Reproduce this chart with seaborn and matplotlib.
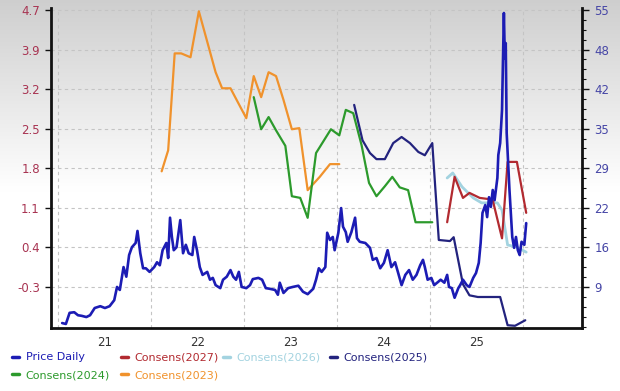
import numpy as np
import pandas as pd
import seaborn as sns
import matplotlib
matplotlib.use("Agg")
import matplotlib.pyplot as plt
from matplotlib.ticker import FixedLocator

# ---- data (x in decimal years) ----
price_year = [
    2020.54, 2020.58, 2020.62, 2020.67, 2020.71, 2020.75, 2020.80, 2020.84, 2020.89, 2020.95,
    2021.00, 2021.05, 2021.10, 2021.13, 2021.16, 2021.20, 2021.23, 2021.26, 2021.29, 2021.33,
    2021.35, 2021.38, 2021.41, 2021.44, 2021.48, 2021.53, 2021.56, 2021.59, 2021.62, 2021.66,
    2021.68, 2021.70, 2021.72, 2021.74, 2021.77, 2021.81, 2021.84, 2021.87, 2021.90, 2021.94,
    2021.96, 2021.99, 2022.02, 2022.05, 2022.10, 2022.13, 2022.16, 2022.19, 2022.24, 2022.27,
    2022.31, 2022.35, 2022.38, 2022.41, 2022.44, 2022.47, 2022.52, 2022.56, 2022.59, 2022.65,
    2022.69, 2022.73, 2022.77, 2022.83, 2022.86, 2022.88, 2022.92, 2022.97, 2023.02, 2023.08,
    2023.13, 2023.18, 2023.24, 2023.27, 2023.30, 2023.33, 2023.37, 2023.39, 2023.42, 2023.45,
    2023.47, 2023.51, 2023.54, 2023.56, 2023.59, 2023.61, 2023.65, 2023.69, 2023.71, 2023.74,
    2023.80, 2023.85, 2023.88, 2023.92, 2023.96, 2024.00, 2024.04, 2024.08, 2024.12, 2024.15,
    2024.19, 2024.23, 2024.27, 2024.31, 2024.35, 2024.39, 2024.42, 2024.44, 2024.47, 2024.51,
    2024.54, 2024.58, 2024.61, 2024.65, 2024.68, 2024.70, 2024.73, 2024.76, 2024.80, 2024.82,
    2024.85, 2024.89, 2024.92, 2024.96, 2024.99, 2025.02, 2025.04, 2025.06, 2025.09, 2025.11,
    2025.13, 2025.15, 2025.17, 2025.19, 2025.22, 2025.23, 2025.25, 2025.26, 2025.27, 2025.28,
    2025.29, 2025.30, 2025.31, 2025.32, 2025.34, 2025.35, 2025.38, 2025.40, 2025.42, 2025.44,
    2025.46, 2025.48, 2025.51, 2025.53,
]
price_value = [
    3.0, 2.85, 4.7, 4.8, 4.3, 4.2, 4.0, 4.3, 5.5, 5.8,
    5.5, 5.8, 6.8, 9.0, 8.5, 12.3, 10.7, 14.3, 15.6, 16.3,
    18.3, 14.6, 12.1, 12.1, 11.5, 12.3, 13.1, 12.6, 15.1, 16.3,
    13.8, 20.5, 17.3, 15.1, 15.6, 20.1, 14.6, 16.0, 14.6, 14.3,
    17.3, 15.1, 12.3, 11.0, 11.5, 10.2, 10.5, 9.3, 8.8, 10.2,
    10.7, 11.8, 10.7, 10.2, 11.5, 9.0, 8.8, 9.3, 10.3, 10.5,
    10.2, 8.8, 8.7, 8.5, 7.7, 9.7, 8.0, 8.8, 9.0, 9.2,
    8.2, 7.8, 8.7, 10.2, 12.1, 11.5, 12.3, 18.0, 16.8, 17.3,
    15.1, 18.0, 22.1, 19.0, 18.1, 16.5, 18.1, 20.5, 17.1, 16.5,
    16.3, 15.5, 13.5, 13.8, 12.1, 13.0, 15.1, 12.3, 13.1, 11.5,
    9.3, 11.0, 11.8, 10.2, 11.0, 12.6, 13.5, 12.3, 10.2, 10.5,
    9.3, 9.8, 10.2, 9.7, 11.0, 9.0, 8.8, 7.2, 8.8, 9.3,
    10.2, 9.3, 9.0, 10.5, 11.3, 13.0, 16.3, 21.3, 22.6, 20.6,
    23.9, 22.3, 25.1, 23.4, 27.1, 30.9, 32.9, 35.6, 38.4, 46.2,
    54.5, 47.0, 49.5, 34.6, 28.4, 25.1, 17.3, 15.5, 17.3, 15.1,
    14.3, 16.5, 16.0, 19.6,
]

c2023_year = [2021.61, 2021.68, 2021.75, 2021.82, 2021.92, 2022.01, 2022.11, 2022.19, 2022.26,
              2022.35, 2022.52, 2022.60, 2022.68, 2022.76, 2022.84, 2022.92, 2023.01, 2023.09,
              2023.18, 2023.31, 2023.42, 2023.52]
c2023_value = [1.79, 2.17, 3.92, 3.92, 3.85, 4.68, 4.07, 3.58, 3.29,
               3.29, 2.75, 3.51, 3.13, 3.58, 3.51, 3.08, 2.55, 2.57,
               1.45, 1.69, 1.92, 1.92]

c2024_year = [2022.60, 2022.68, 2022.76, 2022.84, 2022.94, 2023.01, 2023.10, 2023.18, 2023.27,
              2023.43, 2023.52, 2023.59, 2023.67, 2023.76, 2023.84, 2023.92, 2024.01, 2024.09,
              2024.17, 2024.26, 2024.34, 2024.52]
c2024_value = [3.13, 2.55, 2.77, 2.53, 2.25, 1.34, 1.31, 0.95, 2.12,
               2.55, 2.44, 2.90, 2.84, 2.26, 1.58, 1.34, 1.52, 1.69,
               1.50, 1.45, 0.87, 0.87]

c2025_year = [2023.68, 2023.77, 2023.85, 2023.92, 2024.01, 2024.10, 2024.19, 2024.28, 2024.37,
              2024.44, 2024.52, 2024.59, 2024.71, 2024.75, 2024.85, 2024.92, 2025.01, 2025.25,
              2025.33, 2025.41, 2025.52]
c2025_value = [2.99, 2.35, 2.12, 2.01, 2.01, 2.30, 2.41, 2.30, 2.14,
               2.08, 2.30, 0.55, 0.53, 0.60, -0.25, -0.45, -0.48, -0.48,
               -0.99, -1.00, -0.90]

c2026_year = [2024.68, 2024.74, 2024.84, 2024.96, 2025.05, 2025.22, 2025.27, 2025.33, 2025.43, 2025.53]
c2026_value = [1.67, 1.76, 1.51, 1.31, 1.22, 1.22, 1.09, 0.46, 0.42, 0.33]

c2027_year = [2024.68, 2024.76, 2024.85, 2024.92, 2025.03, 2025.12, 2025.17, 2025.27, 2025.33, 2025.43, 2025.53]
c2027_value = [0.87, 1.69, 1.31, 1.40, 1.31, 1.29, 1.27, 0.58, 1.96, 1.96, 1.04]

year_ticks = [2021, 2022, 2023, 2024, 2025]
year_labels = ["21", "22", "23", "24", "25"]
eps_labels = ["-0.3", "0.4", "1.1", "1.8", "2.5", "3.2", "3.9", "4.7"]
price_labels = ["9", "16", "22", "29", "35", "42", "48", "55"]

# colours
col_price = "#1c1cb4"
col_2025 = "#23237e"
col_2026 = "#a3d3e0"
col_2027 = "#b22a30"
col_2024 = "#2c9a2c"
col_2023 = "#f0922c"

sns.set_style("white")
plt.rcParams["font.family"] = ["DejaVu Sans"]

fig = plt.figure(figsize=(6.2, 3.91), dpi=100)

# grey-to-white background
bg = fig.add_axes([0, 0, 1, 1], zorder=-10)
grad = np.clip(np.linspace(0.81, 1.2, 256), 0, 1)
bg.imshow(np.dstack([grad, grad, grad]).reshape(256, 1, 3),
          aspect="auto", extent=[0, 1, 0, 1], origin="upper")
bg.set_axis_off()

ax = fig.add_axes([51 / 620, 1 - 328 / 391, 531 / 620, 320 / 391])
ax.set_facecolor("none")
ax2 = ax.twinx()

lw = 1.6
sns.lineplot(x=c2023_year, y=c2023_value, ax=ax, color=col_2023, lw=lw, label="Consens(2023)", legend=False)
sns.lineplot(x=c2024_year, y=c2024_value, ax=ax, color=col_2024, lw=lw, label="Consens(2024)", legend=False)
sns.lineplot(x=c2026_year, y=c2026_value, ax=ax, color=col_2026, lw=lw + 0.4, label="Consens(2026)", legend=False)
sns.lineplot(x=c2027_year, y=c2027_value, ax=ax, color=col_2027, lw=lw, label="Consens(2027)", legend=False)
sns.lineplot(x=c2025_year, y=c2025_value, ax=ax, color=col_2025, lw=lw, label="Consens(2025)", legend=False)
sns.lineplot(x=price_year, y=price_value, ax=ax2, color=col_price, lw=1.9, label="Price Daily", legend=False)

# axes limits, aligned so that gridlines coincide
eps_ticks = np.linspace(-0.3, 4.7, 8)
price_ticks = np.linspace(9, 55, 8)
ax.set_xlim(2020.42, 2026.13)
ax.set_ylim(-1.04, 4.74)
ax2.set_ylim(2.18, 55.33)

ax.set_yticks(eps_ticks)
ax.set_yticklabels(eps_labels)
ax2.set_yticks(price_ticks)
ax2.set_yticklabels(price_labels)
ax2.yaxis.set_minor_locator(FixedLocator(np.arange(9 - 46 / 28 * 4, 56, 46 / 28)))

ax.set_xticks(year_ticks)
ax.set_xticklabels(year_labels)
ax.set_xticks([y + 0.5 for y in range(2020, 2026)], minor=True)

for a in (ax, ax2):
    a.set_xlabel("")
    a.set_ylabel("")
    for s in a.spines.values():
        s.set_visible(False)

ax.spines["left"].set_visible(True)
ax.spines["bottom"].set_visible(True)
ax2.spines["right"].set_visible(True)
for s in (ax.spines["left"], ax.spines["bottom"], ax2.spines["right"]):
    s.set_color("#111111")
    s.set_linewidth(2)

ax.grid(False)
ax2.grid(False)
ax.yaxis.grid(True, which="major", color="#c4c4c4", linestyle=(0, (3, 3)), lw=0.8)
ax.xaxis.grid(True, which="minor", color="#c4c4c4", linestyle=(0, (3, 3)), lw=0.8)

ax.tick_params(axis="y", which="major", left=True, length=4, width=1, color="#111111",
               labelsize=8.5, labelcolor="#a83452", pad=4)
ax.tick_params(axis="x", which="both", length=0, labelsize=8.5, labelcolor="#333333", pad=6)
ax2.tick_params(axis="y", which="major", right=True, length=5, width=1, color="#111111",
                labelsize=8.5, labelcolor="#4646a6", pad=4)
ax2.tick_params(axis="y", which="minor", right=True, length=3, width=0.8, color="#111111")

# legend: one small legend per column so the columns sit at fixed places
h1, l1 = ax.get_legend_handles_labels()
h2, l2 = ax2.get_legend_handles_labels()
hd = dict(zip(l1 + l2, h1 + h2))
columns = [
    (8, ["Price Daily", "Consens(2024)"]),
    (117, ["Consens(2027)", "Consens(2023)"]),
    (219, ["Consens(2026)"]),
    (326, ["Consens(2025)"]),
]
for x0, names in columns:
    leg = fig.legend([hd[k] for k in names], names, loc="upper left",
                     bbox_to_anchor=(x0 / 620, 1 - 348 / 391), frameon=False, fontsize=8,
                     handlelength=0.6, handletextpad=0.6, labelspacing=0.7, borderaxespad=0)
    for txt, line in zip(leg.get_texts(), leg.get_lines()):
        txt.set_color(line.get_color())
        line.set_linewidth(2.5)

fig.savefig("out.png", dpi=100)
